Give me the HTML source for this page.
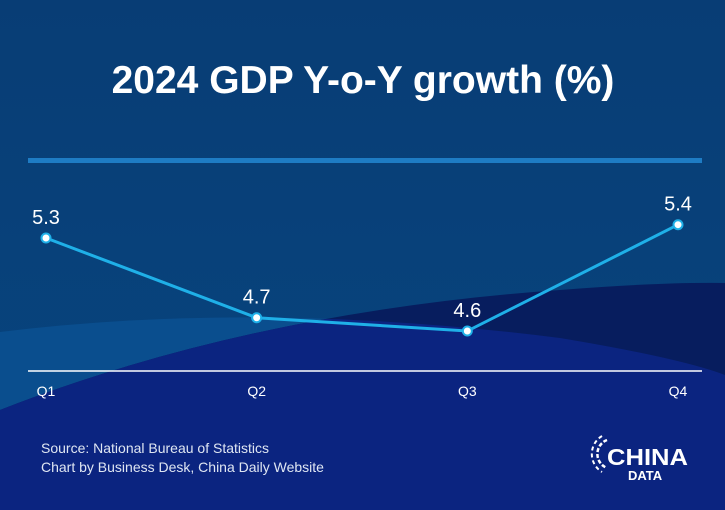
<!DOCTYPE html>
<html><head><meta charset="utf-8"><style>
html,body{margin:0;padding:0;width:725px;height:510px;overflow:hidden;background:#073f76}
svg{display:block}
</style></head><body>
<svg id="chart" width="725" height="510" viewBox="0 0 725 510" xmlns="http://www.w3.org/2000/svg">
<defs>
<linearGradient id="bg" x1="0" y1="0" x2="0" y2="1"><stop offset="0" stop-color="#083d75"/><stop offset="1" stop-color="#07457f"/></linearGradient>
<clipPath id="arcClip"><path d="M0,332 Q260,300 560,338 Q680,358 725,375 L725,510 L0,510 Z"/></clipPath>
</defs>
<rect width="725" height="510" fill="url(#bg)"/>
<path d="M0,332 Q260,300 560,338 Q680,358 725,375 L725,510 L0,510 Z" fill="#0a4e8e"/>
<path d="M0,410 Q250,312 560,290 Q660,282 725,283 L725,510 L0,510 Z" fill="#071d5e"/>
<path clip-path="url(#arcClip)" d="M0,410 Q250,312 560,290 Q660,282 725,283 L725,510 L0,510 Z" fill="#0b2480"/>
<text x="363" y="93" text-anchor="middle" fill="#fff" font-family="'Liberation Sans',sans-serif" font-weight="bold" font-size="39">2024 GDP Y-o-Y growth (%)</text>
<rect x="28" y="158" width="674" height="5" fill="#1e7cc4"/>
<line x1="28" y1="371" x2="702" y2="371" stroke="#fff" stroke-width="1.5"/>
<g id="marks"></g>
<text x="41" y="453" fill="#dfe6f2" font-family="'Liberation Sans',sans-serif" font-size="14">Source: National Bureau of Statistics</text>
<text x="41" y="472" fill="#dfe6f2" font-family="'Liberation Sans',sans-serif" font-size="14">Chart by Business Desk, China Daily Website</text>
<g>
<path d="M607,440 A15,15 0 0 0 607,468" fill="none" stroke="#fff" stroke-width="2.5" stroke-dasharray="4 2"/>
<path d="M602,436 A21,21 0 0 0 602,472" fill="none" stroke="#fff" stroke-width="2" stroke-dasharray="4 3"/>
<text x="607" y="465" fill="#fff" font-family="'Liberation Sans',sans-serif" font-weight="bold" font-size="23" textLength="81" lengthAdjust="spacingAndGlyphs">CHINA</text>
<text x="628" y="480" fill="#fff" font-family="'Liberation Sans',sans-serif" font-weight="bold" font-size="13">DATA</text>
</g>
</svg>
<script>
const categories = ["Q1","Q2","Q3","Q4"];
const growthValues = [5.3, 4.7, 4.6, 5.4];
const valueLabels = ["5.3","4.7","4.6","5.4"];
const NS="http://www.w3.org/2000/svg";
function xPos(i){return 46 + i*(678-46)/(categories.length-1);}
function yPos(v){return 238 - (v-5.3)*132.9;}
const g=document.getElementById('marks');
function mk(t,a){const e=document.createElementNS(NS,t);for(const k in a)e.setAttribute(k,a[k]);g.appendChild(e);return e;}
const line=mk('polyline',{points:growthValues.map((v,i)=>xPos(i)+','+yPos(v)).join(' '),fill:'none',stroke:'#1fb0e8','stroke-width':3});


growthValues.forEach((v,i)=>{
  const c=mk('circle',{cx:xPos(i),cy:yPos(v),r:4.5,fill:'#fff',stroke:'#1fb0e8','stroke-width':2});
  
  
  const lb=mk('text',{x:xPos(i),y:yPos(v)-14,'text-anchor':'middle',fill:'#fff','font-family':"'Liberation Sans',sans-serif",'font-size':20});
  lb.textContent=valueLabels[i];
  
  
  const t=mk('text',{x:xPos(i),y:396,'text-anchor':'middle',fill:'#fff','font-family':"'Liberation Sans',sans-serif",'font-size':14});
  t.textContent=categories[i];
  
  
});
</script>
</body></html>
